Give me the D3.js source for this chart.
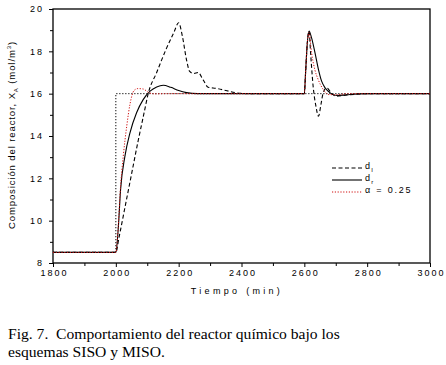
<!DOCTYPE html>
<html>
<head>
<meta charset="utf-8">
<script src="https://cdn.jsdelivr.net/npm/d3@7"></script>
<style>
html,body{margin:0;padding:0;background:#fff;}
svg{display:block;}
</style>
</head>
<body>
<svg id="chart" width="446" height="365"></svg>
<script>
// ---- data ----
const xTicks = [1800, 2000, 2200, 2400, 2600, 2800, 3000];
const yTicks = [8, 10, 12, 14, 16, 18, 20];

const setpointT = [1800, 2000, 2000, 3000];
const setpointV = [8.5, 8.5, 16, 16];

const dIT = [1800, 2000, 2010, 2030, 2050, 2070, 2090, 2103, 2130, 2160, 2185, 2200, 2212, 2225, 2235, 2248, 2262, 2278, 2294, 2320, 2350, 2380, 2420, 2600, 2604, 2609, 2615, 2620, 2628, 2637, 2645, 2653, 2660, 2671, 2687, 2703, 2730, 2760, 2800, 3000];
const dIV = [8.5, 8.5, 9.2, 10.7, 12.2, 13.7, 15.1, 16.0, 17.0, 18.1, 18.9, 19.35, 18.7, 17.6, 17.05, 16.95, 17.0, 16.65, 16.3, 16.25, 16.15, 16.05, 16.0, 16.0, 17.0, 18.3, 18.95, 17.9, 16.35, 15.4, 14.93, 15.5, 16.04, 16.28, 16.0, 15.88, 15.93, 15.97, 16.0, 16.0];

const drT = [1800, 2000, 2008, 2015, 2029, 2045, 2066, 2087, 2109, 2130, 2151, 2175, 2200, 2225, 2260, 2600, 2604, 2609, 2615, 2623, 2634, 2645, 2655, 2666, 2682, 2703, 2735, 2770, 2820, 3000];
const drV = [8.5, 8.5, 9.7, 11.45, 13.05, 14.15, 15.1, 15.72, 16.12, 16.32, 16.4, 16.3, 16.15, 16.05, 16.0, 16.0, 17.0, 18.3, 18.96, 18.64, 17.93, 17.14, 16.59, 16.28, 16.04, 15.91, 15.95, 15.99, 16.0, 16.0];

const alphaT = [1800, 2000, 2008, 2015, 2024, 2035, 2045, 2058, 2070, 2087, 2105, 2125, 2160, 2600, 2604, 2609, 2615, 2623, 2634, 2644, 2660, 2676, 2700, 2740, 3000];
const alphaV = [8.5, 8.5, 9.8, 11.6, 13.1, 14.5, 15.5, 16.15, 16.24, 16.22, 16.05, 15.99, 16.0, 16.0, 17.0, 18.3, 18.9, 17.93, 17.1, 16.67, 16.2, 15.96, 15.95, 16.0, 16.0];

const legendLabels = ["d", "d", "\u03B1 = 0.25"];
const legendSubs = ["I", "r", ""];
const captionLines = ["Fig. 7.  Comportamiento del reactor químico bajo los", "esquemas SISO y MISO."];

// ---- layout ----
const svg = d3.select("#chart");
const L = 53, R = 430, T = 9, B = 263;
const x = d3.scaleLinear().domain([1800, 3000]).range([L, R]);
const y = d3.scaleLinear().domain([8, 20]).range([B, T]);

const zip = (ts, vs) => ts.map((t, i) => [t, vs[i]]);
const line = d3.line().x(d => x(d[0])).y(d => y(d[1])).curve(d3.curveMonotoneX);
const stepLine = d3.line().x(d => x(d[0])).y(d => y(d[1]));

// frame
svg.append("rect").attr("x", L).attr("y", T).attr("width", R - L).attr("height", B - T)
  .attr("fill", "none").attr("stroke", "#000").attr("stroke-width", 1.3);

// axes
const xAxis = d3.axisBottom(x).tickValues(xTicks).tickSize(4).tickFormat(d3.format("d"));
const gx = svg.append("g").attr("transform", `translate(0,${B})`).call(xAxis);
const yAxis = d3.axisLeft(y).tickValues(yTicks).tickSize(4).tickFormat(d3.format("d"));
const gy = svg.append("g").attr("transform", `translate(${L},0)`).call(yAxis);
// minor ticks
const xMinor = d3.axisBottom(x).tickValues(d3.range(1900, 3000, 200)).tickSize(3).tickFormat("");
svg.append("g").attr("transform", `translate(0,${B})`).call(xMinor);
const yMinor = d3.axisLeft(y).tickValues(d3.range(9, 20, 2)).tickSize(3).tickFormat("");
svg.append("g").attr("transform", `translate(${L},0)`).call(yMinor);

svg.selectAll(".domain").remove();
svg.selectAll(".tick line").attr("stroke", "#000").attr("stroke-width", 1);
gx.selectAll(".tick text").attr("font-family", "Liberation Sans, Arial, sans-serif").attr("font-size", 9)
  .attr("letter-spacing", "2px").attr("fill", "#000").attr("dy", "0.71em").attr("y", 7).attr("dx", 1);
gy.selectAll(".tick text").attr("font-family", "Liberation Sans, Arial, sans-serif").attr("font-size", 9)
  .attr("letter-spacing", "2px").attr("fill", "#000").attr("x", -9);

// series
const plot = svg.append("g");
plot.append("path").datum(zip(setpointT, setpointV)).attr("d", stepLine)
  .attr("fill", "none").attr("stroke", "#000").attr("stroke-width", 1).attr("stroke-dasharray", "1.2,1.8");
plot.append("path").datum(zip(dIT, dIV)).attr("d", line)
  .attr("fill", "none").attr("stroke", "#000").attr("stroke-width", 1.1).attr("stroke-dasharray", "4,2.5");
plot.append("path").datum(zip(drT, drV)).attr("d", line)
  .attr("fill", "none").attr("stroke", "#000").attr("stroke-width", 1.1);
plot.append("path").datum(zip(alphaT, alphaV)).attr("d", line)
  .attr("fill", "none").attr("stroke", "#d01010").attr("stroke-width", 1).attr("stroke-dasharray", "1.2,1.6");

// legend
const legStyles = [
  {stroke: "#000", dash: "4,2.5", w: 1.1},
  {stroke: "#000", dash: null, w: 1.1},
  {stroke: "#d01010", dash: "1.2,1.6", w: 1}
];
const legY = [168, 180, 192];
legendLabels.forEach((lab, i) => {
  svg.append("line").attr("x1", 332).attr("x2", 362).attr("y1", legY[i]).attr("y2", legY[i])
    .attr("stroke", legStyles[i].stroke).attr("stroke-width", legStyles[i].w)
    .attr("stroke-dasharray", legStyles[i].dash);
  const t = svg.append("text").attr("x", 365).attr("y", legY[i] + 1)
    .attr("font-family", "Liberation Sans, Arial, sans-serif").attr("font-size", 9)
    .attr("letter-spacing", "1.8px").attr("fill", "#000").text(lab);
  if (legendSubs[i]) {
    t.append("tspan").attr("font-size", 6).attr("dy", 3).attr("dx", -0.5).text(legendSubs[i]);
  }
});

// axis titles
svg.append("text").attr("x", 237).attr("y", 294).attr("text-anchor", "middle")
  .attr("font-family", "Liberation Sans, Arial, sans-serif").attr("font-size", 9)
  .attr("letter-spacing", "3.3px").attr("fill", "#000").text("Tiempo (min)");

const yl = svg.append("text").attr("transform", "translate(15,135) rotate(-90)")
  .attr("text-anchor", "middle")
  .attr("font-family", "Liberation Sans, Arial, sans-serif").attr("font-size", 9.5)
  .attr("letter-spacing", "0.9px").attr("fill", "#000");
yl.append("tspan").text("Composición del reactor, X");
yl.append("tspan").attr("font-size", 6).attr("dy", 2.5).text("A");
yl.append("tspan").attr("dy", -2.5).text(" (mol/m");
yl.append("tspan").attr("font-size", 6).attr("dy", -4).text("3");
yl.append("tspan").attr("dy", 4).text(")");

// caption
captionLines.forEach((c, i) => {
  svg.append("text").attr("x", 8).attr("y", 339 + i * 18)
    .attr("font-family", "Liberation Serif, Times New Roman, serif").attr("font-size", 15.6)
    .attr("fill", "#000").attr("xml:space", "preserve").style("white-space", "pre").text(c);
});
</script>
</body>
</html>
